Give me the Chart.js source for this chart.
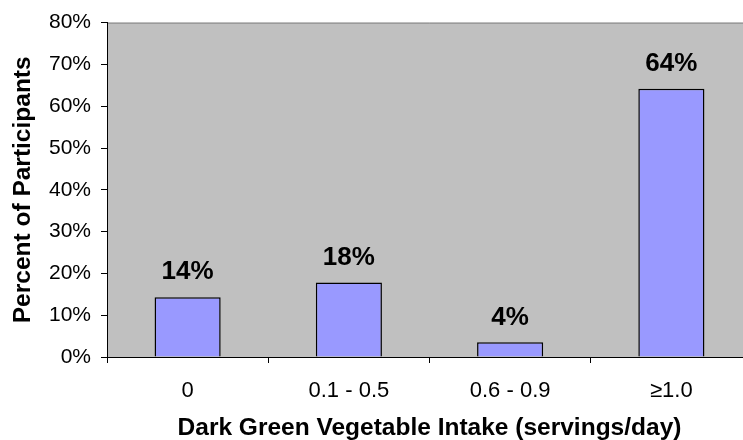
<!DOCTYPE html>
<html>
<head>
<meta charset="utf-8">
<script src="https://cdn.jsdelivr.net/npm/chart.js@4.4.3/dist/chart.umd.min.js"></script>
<style>
  html, body { margin: 0; padding: 0; background: #fff; overflow: hidden; }
  #wrap { position: relative; width: 752px; height: 440px; }
</style>
</head>
<body>
<div id="wrap"><canvas id="chart"></canvas></div>
<script>
// Chart data
const categories = ['0', '0.1 - 0.5', '0.6 - 0.9', '\u22651.0'];
const percentValues = [14.3, 17.8, 3.5, 64.2];
const yTicks = [0, 10, 20, 30, 40, 50, 60, 70, 80];

const FONT = "Arial, 'Liberation Sans', sans-serif";

// gray plot area + top border
const plotBackground = {
  id: 'plotBackground',
  beforeDraw(chart) {
    const { ctx, chartArea: a } = chart;
    ctx.save();
    ctx.fillStyle = '#C0C0C0';
    ctx.fillRect(a.left, a.top, a.right - a.left, a.bottom - a.top);
    ctx.strokeStyle = '#808080';
    ctx.lineWidth = 1;
    ctx.beginPath();
    ctx.moveTo(a.left, a.top + 0.5);
    ctx.lineTo(a.right, a.top + 0.5);
    ctx.stroke();
    ctx.restore();
  }
};

// bold percent labels above each bar
const valueLabels = {
  id: 'valueLabels',
  afterDatasetsDraw(chart) {
    const { ctx } = chart;
    const meta = chart.getDatasetMeta(0);
    ctx.save();
    ctx.fillStyle = '#000';
    ctx.font = `bold 26px ${FONT}`;
    ctx.textAlign = 'center';
    ctx.textBaseline = 'middle';
    meta.data.forEach((bar, i) => {
      ctx.fillText(Math.round(percentValues[i]) + '%', bar.x, bar.y - 25);
    });
    ctx.restore();
  }
};

new Chart(document.getElementById('chart'), {
  type: 'bar',
  data: {
    labels: categories,
    datasets: [{
      data: percentValues,
      backgroundColor: '#9999FF',
      borderColor: '#000',
      borderWidth: 1.5,
      categoryPercentage: 1,
      barPercentage: 0.41
    }]
  },
  options: {
    responsive: true,
    maintainAspectRatio: false,
    animation: false,
    layout: { padding: { top: 21, left: 0, right: 0, bottom: 0 } },
    plugins: {
      legend: { display: false },
      tooltip: { enabled: false }
    },
    scales: {
      x: {
        grid: { display: true, drawOnChartArea: false, drawTicks: true, tickLength: 6, color: '#000', offset: true },
        border: { display: true, color: '#000', width: 1 },
        ticks: { color: '#000', font: { family: FONT, size: 22 }, padding: 15, maxRotation: 0 },
        title: {
          display: true,
          text: 'Dark Green Vegetable Intake (servings/day)',
          color: '#000',
          font: { family: FONT, size: 24.5, weight: 'bold', lineHeight: 1 },
          padding: { top: 0, bottom: 0 }
        },
        afterFit(scale) { scale.height = 83; }
      },
      y: {
        min: 0,
        max: 80,
        afterBuildTicks(scale) { scale.ticks = yTicks.map(v => ({ value: v })); },
        grid: { display: true, drawOnChartArea: false, drawTicks: true, tickLength: 6, color: '#000' },
        border: { display: true, color: '#000', width: 1 },
        ticks: { color: '#000', font: { family: FONT, size: 21 }, padding: 10, callback: v => v + '%' },
        title: {
          display: true,
          text: 'Percent of Participants',
          color: '#000',
          font: { family: FONT, size: 24.5, weight: 'bold', lineHeight: 1 },
          padding: { top: 11, bottom: 0 }
        },
        afterFit(scale) { scale.width = 107; }
      }
    }
  },
  plugins: [plotBackground, valueLabels]
});
</script>
</body>
</html>
